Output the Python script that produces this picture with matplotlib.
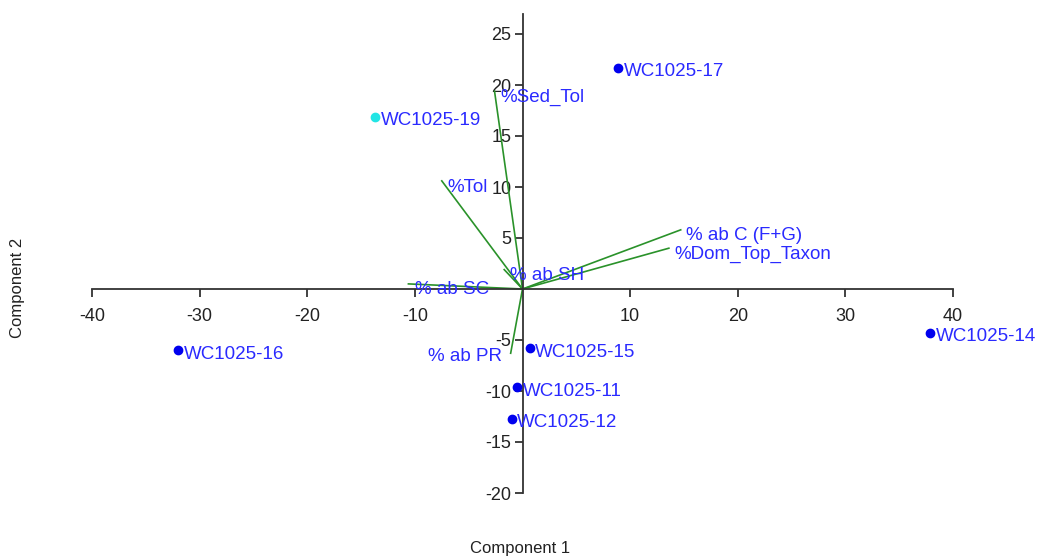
import numpy as np
import matplotlib.pyplot as plt

plt.rcParams['font.family'] = ['Liberation Sans', 'DejaVu Sans']
plt.rcParams['axes.unicode_minus'] = False

# Puntuaciones de las muestras
muestras = ['WC1025-17', 'WC1025-19', 'WC1025-16', 'WC1025-14',
            'WC1025-15', 'WC1025-11', 'WC1025-12']
comp1 = np.array([8.9, -13.7, -32.0, 37.9, 0.7, -0.5, -1.0])
comp2 = np.array([21.7, 16.9, -6.0, -4.3, -5.8, -9.6, -12.7])
colores = ['#0000ee', '#22e5e5', '#0000ee', '#0000ee', '#0000ee', '#0000ee', '#0000ee']

# Cargas de las variables
variables = ['%Sed_Tol', '%Tol', '% ab C (F+G)', '%Dom_Top_Taxon',
             '% ab SH', '% ab SC', '% ab PR']
carga1 = np.array([-2.6, -7.5, 14.7, 13.6, -1.7, -10.6, -1.1])
carga2 = np.array([19.4, 10.6, 5.8, 4.0, 1.9, 0.5, -6.3])

azul = '#2a2aff'
gris = '#333333'

fig = plt.figure(figsize=(10.38, 5.6), dpi=100)
ax = fig.add_axes([92 / 1038, 67 / 560, 861 / 1038, 479.4 / 560])
ax.set_xlim(-40, 40)
ax.set_ylim(-20, 27)

# Vectores
for v, a, b in zip(variables, carga1, carga2):
    ax.plot([0, a], [0, b], color='#2a922a', lw=1.2, zorder=2)
    if v == '% ab PR':
        ax.text(a - 0.8, b - 0.3, v, color=azul, fontsize=13.5, ha='right', va='center')
    elif v == '% ab SC':
        ax.text(a + 0.6, b - 0.5, v, color=azul, fontsize=13.5, ha='left', va='center')
    else:
        ax.text(a + 0.5, b - 0.6, v, color=azul, fontsize=13.5, ha='left', va='center')

# Muestras
for m, x, y, c in zip(muestras, comp1, comp2, colores):
    ax.plot(x, y, 'o', color=c, ms=6, zorder=3, clip_on=False)
    ax.text(x + 0.5, y - 0.4, m, color=azul, fontsize=13.5, ha='left', va='center', clip_on=False)

# Ejes cruzando en el origen
for s in ['top', 'right']:
    ax.spines[s].set_visible(False)
ax.spines['left'].set_position(('data', 0))
ax.spines['bottom'].set_position(('data', 0))
ax.spines['left'].set_bounds(-20, 27)
ax.spines['bottom'].set_bounds(-40, 40)
for s in ['left', 'bottom']:
    ax.spines[s].set_color(gris)
    ax.spines[s].set_linewidth(1.3)

ax.set_xticks([-40, -30, -20, -10, 10, 20, 30, 40])
ax.set_yticks([-20, -15, -10, -5, 5, 10, 15, 20, 25])
ax.tick_params(axis='both', colors=gris, labelcolor='#222222', labelsize=13,
               length=6, width=1.3)
ax.tick_params(axis='x', pad=8)
ax.tick_params(axis='y', pad=2)

fig.text(520 / 1038, 1 - 549 / 560, 'Component 1', ha='center', va='center',
         fontsize=12, color='#222222')
fig.text(18 / 1038, 1 - 288 / 560, 'Component 2', ha='center', va='center',
         fontsize=12, color='#222222', rotation=90)

fig.savefig('out.png', dpi=100)
